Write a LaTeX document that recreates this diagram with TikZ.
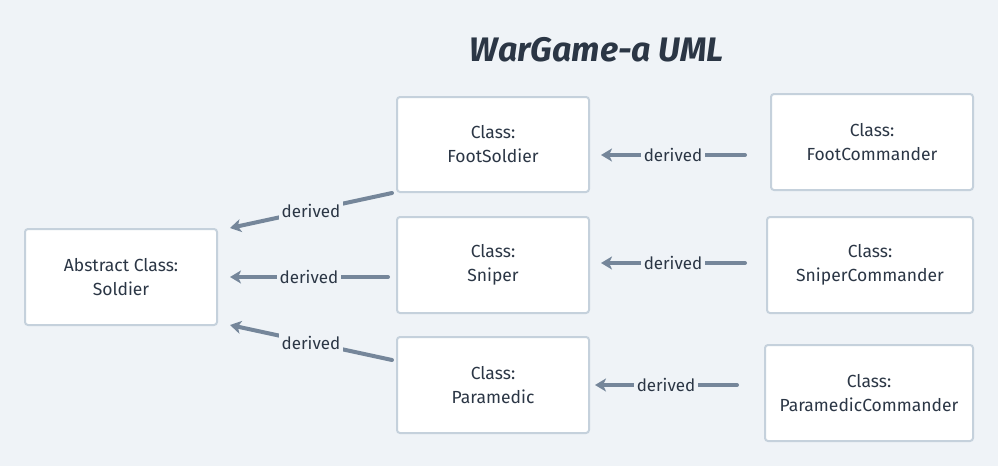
\documentclass[tikz,border=0pt]{standalone}
\usepackage{fontspec}
\setmainfont{Fira Sans}
\usetikzlibrary{arrows.meta}
\definecolor{bg}{HTML}{EFF3F7}
\definecolor{boxline}{HTML}{C5D1DC}
\definecolor{arrowc}{HTML}{75869A}
\definecolor{ink}{HTML}{2B3645}
\begin{document}
\begin{tikzpicture}[x=1pt,y=-1pt,
  clsbox/.style={draw=boxline, line width=2pt, fill=white, rounded corners=3pt,
    align=center, text=ink, font=\fontsize{17.5}{24}\selectfont, inner sep=0pt},
  rel/.style={draw=arrowc, line width=4pt, line cap=round,
    -{Stealth[length=11pt,width=13pt,inset=3pt]}},
  rellabel/.style={fill=bg, text=ink, font=\fontsize{17}{20}\selectfont, inner sep=3pt, midway}]
\fill[bg] (0,0) rectangle (998,466);
\node[text=ink, font=\fontsize{34}{40}\selectfont\bfseries\itshape] (title) at (597,50) {WarGame-a UML};
\node[clsbox, minimum width=192pt, minimum height=96pt] (sol) at (121,277) {Abstract Class:\\Soldier};
\node[clsbox, minimum width=192pt, minimum height=95pt] (fs) at (493,144.5) {Class:\\FootSoldier};
\node[clsbox, minimum width=192pt, minimum height=96pt] (sn) at (493,265) {Class:\\Sniper};
\node[clsbox, minimum width=192pt, minimum height=96pt] (pm) at (493,385) {Class:\\Paramedic};
\node[clsbox, minimum width=202pt, minimum height=96pt] (fc) at (872,142) {Class:\\FootCommander};
\node[clsbox, minimum width=206pt, minimum height=96pt] (sc) at (870,265) {Class:\\SniperCommander};
\node[clsbox, minimum width=208pt, minimum height=96pt] (pc) at (869,393) {Class:\\ParamedicCommander};
\draw[rel] ([shift={(-4,0)}]fs.south west) -- ([shift={(12,0)}]sol.north east) node[rellabel] {derived};
\draw[rel] ([shift={(-8,12)}]sn.west) -- ([shift={(12,0)}]sol.east) node[rellabel] {derived};
\draw[rel] ([shift={(-4,-25)}]pm.west) -- ([shift={(12,-1)}]sol.south east) node[rellabel] {derived};
\draw[rel] ([shift={(-25,13)}]fc.west) -- ([shift={(11,10.5)}]fs.east) node[rellabel] {derived};
\draw[rel] ([shift={(-21,-2)}]sc.west) -- ([shift={(11,-2)}]sn.east) node[rellabel] {derived};
\draw[rel] ([shift={(-27,-8)}]pc.west) -- ([shift={(5,0)}]pm.east) node[rellabel] {derived};
\end{tikzpicture}
\end{document}
